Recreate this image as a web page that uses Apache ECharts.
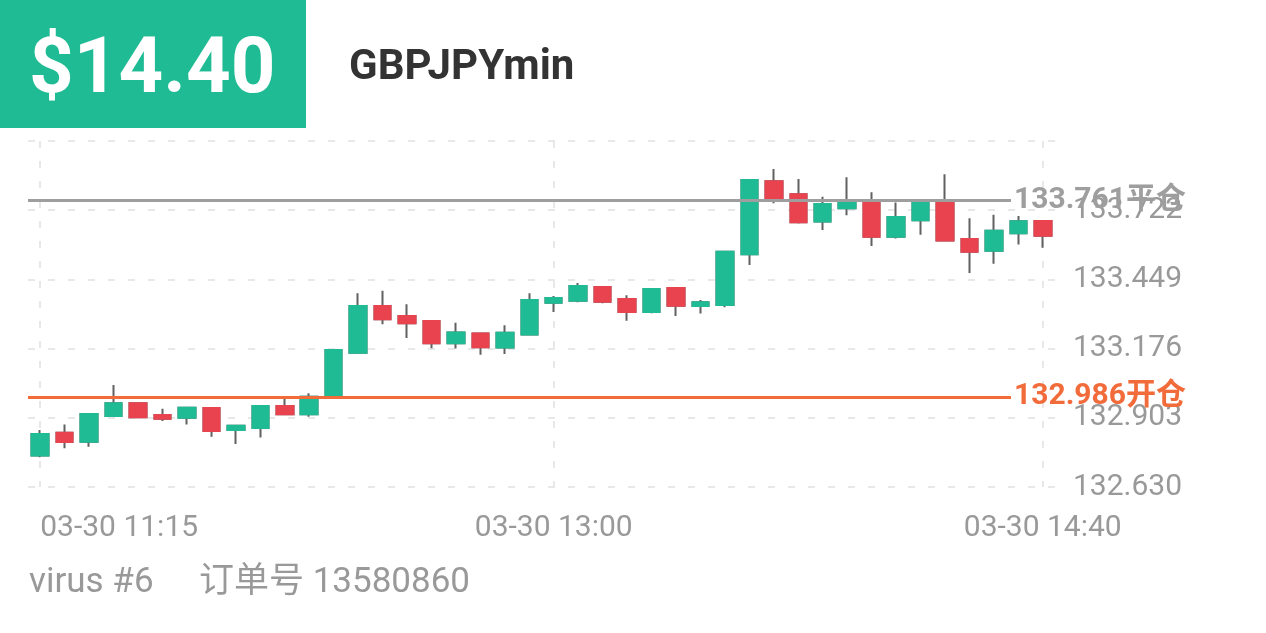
<!DOCTYPE html>
<html>
<head>
<meta charset="utf-8">
<script src="https://cdn.jsdelivr.net/npm/echarts@6/dist/echarts.min.js"></script>
<style>
html,body{margin:0;padding:0;background:#fff;}
#main{width:1266px;height:633px;}
</style>
</head>
<body>
<div id="main"></div>
<script>
var categories = [
  '03-30 11:15','03-30 11:20','03-30 11:25','03-30 11:30','03-30 11:35','03-30 11:40','03-30 11:45','03-30 11:50','03-30 11:55',
  '03-30 12:00','03-30 12:05','03-30 12:10','03-30 12:15','03-30 12:20','03-30 12:25','03-30 12:30','03-30 12:35','03-30 12:40','03-30 12:45','03-30 12:50','03-30 12:55',
  '03-30 13:00','03-30 13:05','03-30 13:10','03-30 13:15','03-30 13:20','03-30 13:25','03-30 13:30','03-30 13:35','03-30 13:40','03-30 13:45','03-30 13:50','03-30 13:55',
  '03-30 14:00','03-30 14:05','03-30 14:10','03-30 14:15','03-30 14:20','03-30 14:25','03-30 14:30','03-30 14:35','03-30 14:40'
];
var opens = [132.754,132.844,132.809,132.910,132.960,132.914,132.903,132.942,132.855,132.863,132.950,132.917,132.993,133.160,133.344,133.305,133.285,133.197,133.236,133.180,133.232,133.357,133.365,133.419,133.372,133.320,133.415,133.344,133.348,133.548,133.836,133.785,133.677,133.730,133.754,133.617,133.682,133.761,133.608,133.562,133.631,133.679];
var closes = [132.839,132.808,132.918,132.960,132.905,132.899,132.943,132.851,132.872,132.950,132.917,132.986,133.170,133.344,133.292,133.276,133.197,133.240,133.181,133.239,133.368,133.376,133.423,133.361,133.320,133.411,133.345,133.359,133.558,133.841,133.769,133.674,133.746,133.754,133.617,133.695,133.762,133.602,133.558,133.641,133.678,133.621];
var lows = [132.747,132.783,132.789,132.908,132.901,132.890,132.877,132.828,132.800,132.825,132.916,132.907,132.992,133.159,133.272,133.218,133.177,133.176,133.152,133.155,133.231,133.320,133.359,133.355,133.286,133.315,133.305,133.314,133.339,133.506,133.749,133.670,133.644,133.702,133.581,133.610,133.625,133.601,133.474,133.511,133.587,133.574];
var highs = [132.855,132.877,132.918,133.032,132.961,132.939,132.944,132.943,132.873,132.951,132.986,133.000,133.171,133.394,133.404,133.351,133.286,133.278,133.237,133.268,133.394,133.384,133.435,133.420,133.386,133.412,133.416,133.368,133.559,133.842,133.885,133.845,133.775,133.852,133.793,133.752,133.766,133.864,133.690,133.704,133.699,133.680];
var xTickLabels = ['03-30 11:15','03-30 13:00','03-30 14:40'];
var yMin = 132.630, yMax = 133.995, yStep = 0.273;
var openPrice = 132.986, closePrice = 133.761;
var profitText = '$14.40';
var symbolText = 'GBPJPYmin';
var accountText = 'virus #6';
var orderText = '订单号 13580860';

var GREEN = '#1FBB94', RED = '#E8434F', WICK = '#616161', GRAYLINE = '#9E9E9E', ORANGE = '#F26B3A', LABEL = '#999999';
var FONT = 'Roboto, "Noto Sans CJK SC", sans-serif';

var wickData = opens.map(function (o, i) { return [o, closes[i], lows[i], highs[i]]; });
var bodyData = opens.map(function (o, i) { return [o, closes[i], Math.min(o, closes[i]), Math.max(o, closes[i])]; });

function showTick(idx, value) { return xTickLabels.indexOf(value) >= 0; }

var chart = echarts.init(document.getElementById('main'), null, {renderer: 'canvas'});
chart.setOption({
  animation: false,
  backgroundColor: '#fff',
  textStyle: {fontFamily: FONT},
  grid: {left: 28, right: 211, top: 141, bottom: 146},
  graphic: [
    {type: 'rect', left: 0, top: 0, shape: {x: 0, y: 0, width: 306, height: 128}, style: {fill: GREEN}, z: 0},
    {type: 'text', x: 29, y: 72, style: {text: profitText, fill: '#fff', font: 'bold 78px ' + FONT, textVerticalAlign: 'middle'}},
    {type: 'text', x: 349, y: 68, style: {text: symbolText, fill: '#333', font: 'bold 42px ' + FONT, textVerticalAlign: 'middle'}},
    {type: 'text', x: 29, y: 583, style: {text: accountText, fill: LABEL, font: '35px ' + FONT, textVerticalAlign: 'middle'}},
    {type: 'text', x: 199, y: 583, style: {text: orderText, fill: LABEL, font: '35px ' + FONT, textVerticalAlign: 'middle'}}
  ],
  xAxis: {
    type: 'category',
    data: categories,
    boundaryGap: true,
    axisLine: {show: false},
    axisTick: {show: false},
    axisLabel: {
      interval: showTick,
      color: LABEL, fontSize: 30, margin: 26, fontFamily: FONT,
      alignMinLabel: 'left'
    },
    splitLine: {
      show: true, interval: showTick, alignWithLabel: true,
      lineStyle: {color: '#E8E8E8', width: 2, type: [7, 13]}
    }
  },
  yAxis: {
    type: 'value',
    position: 'right',
    min: yMin, max: yMax, interval: yStep,
    axisLine: {show: false},
    axisTick: {show: false},
    axisLabel: {
      color: LABEL, fontSize: 30, margin: 18, fontFamily: FONT,
      showMaxLabel: false,
      formatter: function (v) { return v.toFixed(3); }
    },
    splitLine: {show: true, lineStyle: {color: '#E8E8E8', width: 2, type: [7, 13]}}
  },
  series: [
    {
      type: 'candlestick',
      data: wickData,
      barWidth: 17,
      silent: true,
      itemStyle: {color: GREEN, color0: RED, borderColor: WICK, borderColor0: WICK, borderWidth: 2},
      emphasis: {disabled: true}
    },
    {
      type: 'candlestick',
      data: bodyData,
      barWidth: 17,
      silent: true,
      itemStyle: {color: GREEN, color0: RED, borderColor: GREEN, borderColor0: RED, borderWidth: 2},
      emphasis: {disabled: true},
      markLine: {
        silent: true,
        symbol: 'none',
        animation: false,
        data: [
          [
            {coord: [categories[0], closePrice], x: 28, lineStyle: {color: GRAYLINE, width: 3, type: 'solid'},
             label: {show: true, position: 'end', distance: 3, formatter: closePrice.toFixed(3) + '平仓', color: GRAYLINE, fontSize: 30, fontWeight: 'bold', fontFamily: FONT}},
            {coord: [categories[categories.length - 1], closePrice], x: 1011}
          ],
          [
            {coord: [categories[0], openPrice], x: 28, lineStyle: {color: ORANGE, width: 3, type: 'solid'},
             label: {show: true, position: 'end', distance: 3, formatter: openPrice.toFixed(3) + '开仓', color: ORANGE, fontSize: 30, fontWeight: 'bold', fontFamily: FONT}},
            {coord: [categories[categories.length - 1], openPrice], x: 1011}
          ]
        ]
      }
    }
  ]
});
</script>
</body>
</html>
